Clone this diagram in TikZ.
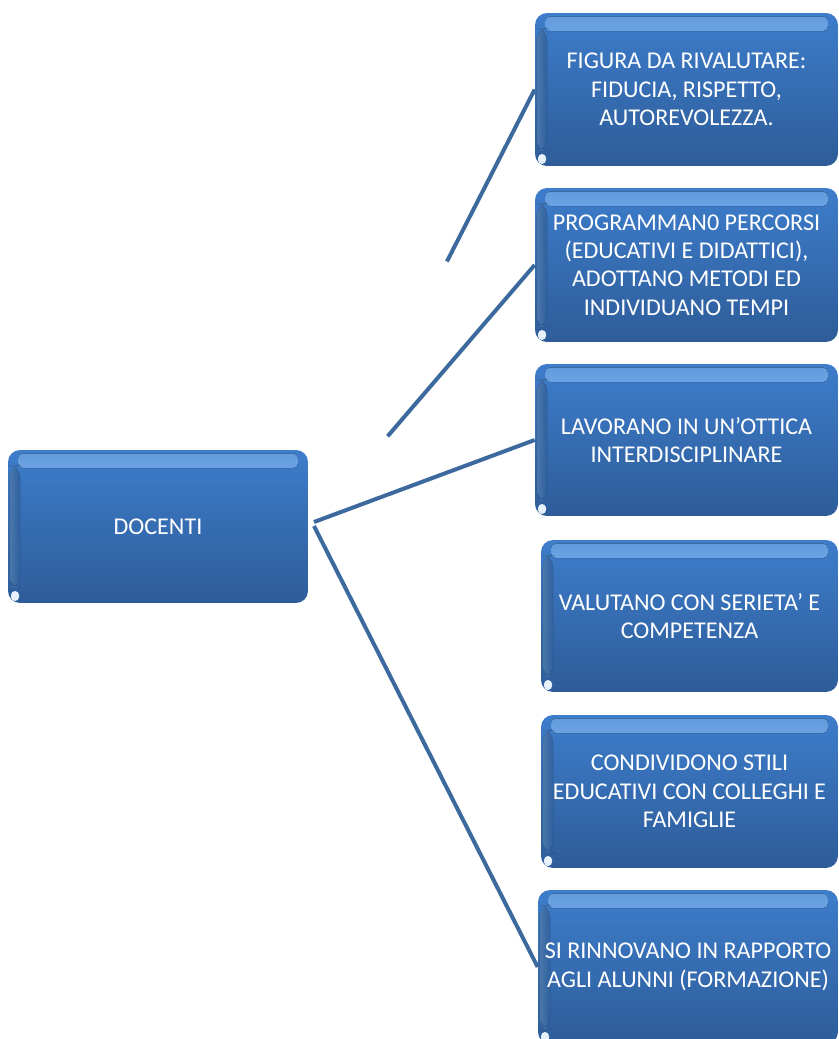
\documentclass[tikz,border=0pt]{standalone}
\usepackage{fontspec}
\setmainfont{Carlito}
\usepackage{tikz}
\definecolor{boxtop}{HTML}{3D7DCB}
\definecolor{boxbot}{HTML}{2E5C99}
\definecolor{boxlight}{HTML}{86B8F0}
\definecolor{linkcol}{HTML}{3D6A9E}

\begin{document}
\begin{tikzpicture}[x=0.02cm,y=-0.02cm,
  card/.style={rectangle,rounded corners=0.24cm,draw=none,
    top color=boxtop,bottom color=boxbot,text=white,align=center,
    minimum height=3.06cm,inner sep=0pt,
    font=\fontsize{13.7}{16.2}\selectfont,
    path picture={
      \fill[top color=boxlight!50!boxtop,bottom color=boxtop,middle color=boxlight,rounded corners=0.1cm]
        ([xshift=0.2cm,yshift=-0.07cm]path picture bounding box.north west) rectangle
        ([xshift=-0.2cm,yshift=-0.36cm]path picture bounding box.north east);
      \fill[left color=boxlight!55!boxtop,right color=boxtop,opacity=0.7]
        ([xshift=0.03cm,yshift=-0.3cm]path picture bounding box.north west) rectangle
        ([xshift=0.24cm,yshift=0.3cm]path picture bounding box.south west);
      \fill[white!80!boxlight,rounded corners=0.08cm]
        ([xshift=0.06cm,yshift=0.04cm]path picture bounding box.south west) rectangle
        ([xshift=0.22cm,yshift=0.24cm]path picture bounding box.south west);
    }},
  link/.style={draw=linkcol,line width=0.08cm}]
\useasboundingbox (0,0) rectangle (839,1039);

\node[card,minimum width=6cm] (docenti) at (158,526.5) {DOCENTI};
\node[card,minimum width=6.06cm] (figura) at (686.5,89.5)
  {FIGURA DA RIVALUTARE:\\FIDUCIA, RISPETTO,\\AUTOREVOLEZZA.};
\node[card,minimum width=6.06cm,minimum height=3.08cm] (programmano) at (686.5,265)
  {PROGRAMMAN0 PERCORSI\\(EDUCATIVI E DIDATTICI),\\ADOTTANO METODI ED\\INDIVIDUANO TEMPI};
\node[card,minimum width=6.06cm,minimum height=3.04cm] (lavorano) at (686.5,440)
  {LAVORANO IN UN’OTTICA\\INTERDISCIPLINARE};
\node[card,minimum width=5.94cm,minimum height=3.04cm] (valutano) at (689.5,616)
  {VALUTANO CON SERIETA’ E\\COMPETENZA};
\node[card,minimum width=5.94cm] (condividono) at (689.5,791.5)
  {CONDIVIDONO STILI\\EDUCATIVI CON COLLEGHI E\\FAMIGLIE};
\node[card,minimum width=6cm,minimum height=3.08cm] (rinnovano) at (688,967)
  {SI RINNOVANO IN RAPPORTO\\AGLI ALUNNI (FORMAZIONE)};

\coordinate (hub) at (314,522);
\draw[link,shorten <=5.85cm] (hub) -- (figura.west);
\draw[link,shorten <=2.26cm] (hub) -- (programmano.west);
\draw[link] (hub) -- (lavorano.west);
\draw[link] ([yshift=-0.08cm]hub) -- (rinnovano.west);
\end{tikzpicture}
\end{document}
